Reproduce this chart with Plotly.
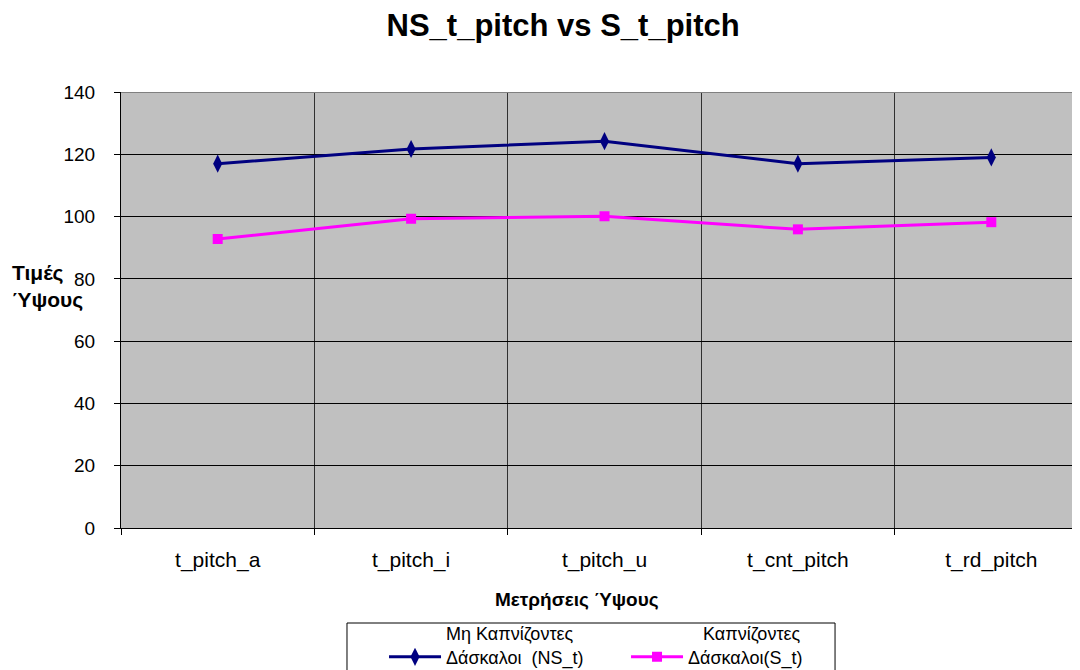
import plotly.graph_objects as go

categories = ["t_pitch_a", "t_pitch_i", "t_pitch_u", "t_cnt_pitch", "t_rd_pitch"]
ns_values = [117.0, 121.7, 124.2, 117.0, 119.0]
s_values = [92.8, 99.3, 100.1, 95.9, 98.2]
y_ticks = [0, 20, 40, 60, 80, 100, 120, 140]
ns_name = "Μη Καπνίζοντες<br>Δάσκαλοι  (NS_t)"
s_name = "\u00a0\u00a0\u00a0Καπνίζοντες<br>Δάσκαλοι(S_t)"

FONT = "Liberation Sans, Arial, sans-serif"

fig = go.Figure()
fig.add_trace(go.Scatter(
    x=categories, y=ns_values, name=ns_name, mode="lines+markers",
    line=dict(color="#000080", width=3),
    marker=dict(symbol="diamond-tall", size=13, color="#000080"),
))
fig.add_trace(go.Scatter(
    x=categories, y=s_values, name=s_name, mode="lines+markers",
    line=dict(color="#FF00FF", width=3),
    marker=dict(symbol="square", size=10, color="#FF00FF"),
))

fig.update_layout(
    width=1080, height=670,
    margin=dict(l=113, r=0, t=84, b=150, autoexpand=False),
    paper_bgcolor="white", plot_bgcolor="#C0C0C0",
    font=dict(family=FONT, size=19, color="black"),
    title=dict(text="<b>NS_t_pitch vs S_t_pitch</b>", x=0.514, xref="container",
               xanchor="center", y=0.975, yanchor="middle",
               font=dict(family=FONT, size=31, color="black")),
    showlegend=True,
    legend=dict(orientation="h", x=0.272, xanchor="left", y=-0.2, yanchor="top",
                bgcolor="rgba(0,0,0,0)", borderwidth=0,
                font=dict(family=FONT, size=18), valign="bottom",
                itemwidth=52, entrywidth=175, entrywidthmode="pixels",
                tracegroupgap=0),
)
fig.update_xaxes(
    type="category", range=[-0.5, 4.5], tickson="boundaries",
    showgrid=True, gridcolor="#303030", gridwidth=1,
    showline=True, linecolor="black", linewidth=1,
    ticks="outside", ticklen=6, tickcolor="black",
    ticklabelstandoff=13,
    tickfont=dict(family=FONT, size=21), zeroline=False,
)
fig.update_yaxes(
    range=[0, 140], tickvals=y_ticks,
    showgrid=True, gridcolor="black", gridwidth=1,
    showline=True, linecolor="black", linewidth=1,
    ticks="outside", ticklen=6, tickcolor="black",
    ticklabelstandoff=15,
    tickfont=dict(family=FONT, size=19), zeroline=False,
)
fig.add_shape(type="line", xref="paper", yref="y", x0=0, x1=1, y0=140, y1=140,
              line=dict(color="#808080", width=2))
# legend frame
fig.add_shape(type="rect", xref="paper", yref="paper", x0=0.2337, x1=0.7384,
              y0=-0.2179, y1=-0.45, fillcolor="white", line=dict(color="black", width=1))
fig.add_annotation(text="<b>Τιμές<br>Ύψους</b>", xref="paper", yref="y",
                   x=-0.1148, y=77.7, xanchor="left", yanchor="middle", align="left",
                   showarrow=False, font=dict(family=FONT, size=21))
fig.add_annotation(text="<b>Μετρήσεις Ύψους</b>", xref="paper", yref="paper",
                   x=0.4716, y=-0.165, xanchor="center", yanchor="middle",
                   showarrow=False, font=dict(family=FONT, size=19))

fig.write_html("out.html")
